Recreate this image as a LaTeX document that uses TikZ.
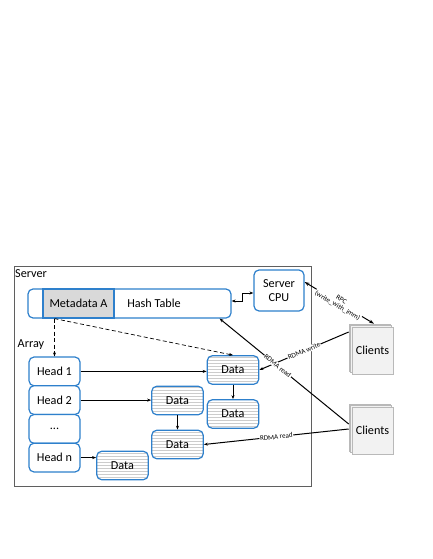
\documentclass[tikz,border=0pt]{standalone}
\usepackage{fontspec}
\setmainfont{Carlito}
\usetikzlibrary{arrows.meta,patterns,shadows}
\definecolor{bblue}{RGB}{46,128,204}
\definecolor{framegray}{RGB}{95,95,95}
\definecolor{metafill}{RGB}{217,217,217}
\definecolor{cfill}{RGB}{242,242,242}
\definecolor{cdraw}{RGB}{185,185,185}
\tikzset{
  bbox/.style={draw=bblue, line width=1.2pt, rounded corners=5pt, fill=white, inner sep=0pt, align=center},
  headbox/.style={bbox, minimum width=51pt, minimum height=28.75pt},
  databox/.style={draw=bblue, line width=1.2pt, rounded corners=5pt, inner sep=0pt,
     preaction={fill=white}, pattern=horizontal lines, pattern color=black!20,
     minimum width=51.5pt, minimum height=28.5pt},
  clientbox/.style={draw=cdraw, line width=0.6pt, fill=cfill, minimum width=41pt, minimum height=47pt, inner sep=0pt,
     double copy shadow={shadow xshift=-1.5pt, shadow yshift=1.5pt, fill=cfill, draw=cdraw, line width=0.6pt}},
  tip/.style={-{Stealth[length=4pt,width=3pt]}},
  conn/.style={line width=0.7pt},
  cconn/.style={line width=1pt},
  lab/.style={font=\fontsize{7}{7.5}\selectfont, fill=white, inner sep=0.6pt, sloped, align=center}
}
\begin{document}
\begin{tikzpicture}[x=1pt,y=-1pt,font=\fontsize{12.2}{14}\selectfont]
\useasboundingbox[fill=white] (0,0) rectangle (432,559);
% server frame
\draw[framegray, line width=0.9pt] (14,266) rectangle (311,486);
\node[anchor=west, inner sep=0pt] (srv) at (15,274) {Server};
\node[anchor=west, inner sep=0pt] (arr) at (17.5,345) {Array};
% hash table
\node[bbox, minimum width=203pt, minimum height=29pt] (HT) at (129.5,303.5) {};
\node[draw=bblue, line width=1.2pt, fill=metafill, minimum width=71pt, minimum height=29pt, inner sep=0pt] (MA) at (78.5,303.5) {Metadata A};
\node (htl) at (154,303.5) {Hash Table};
% server cpu
\node[bbox, minimum width=50pt, minimum height=41pt] (CPU) at (279,290.5) {Server\\CPU};
% heads
\node[headbox] (H1) at (54.5,371.4) {Head 1};
\node[headbox] (H2) at (54.5,400.1) {Head 2};
\node[headbox] (H3) at (54.5,428.9) {...};
\node[headbox] (Hn) at (54.5,457.6) {Head n};
% data
\node[databox] (D1) at (233,370) {Data};
\node[databox] (D1b) at (233,414) {Data};
\node[databox] (D2) at (177.5,400.5) {Data};
\node[databox] (D2b) at (177.5,444.5) {Data};
\node[databox] (Dn) at (122.5,465.5) {Data};
% clients
\node[clientbox] (C1) at (372.5,350.5) {Clients};
\node[clientbox] (C2) at (372.5,430.5) {Clients};
% arrows inside server
\draw[conn, tip] (H1.east) -- (H1.east -| D1.west);
\draw[conn, tip] (H2.east) -- (H2.east -| D2.west);
\draw[conn, tip] (Hn.east) -- (Hn.east -| Dn.west);
\draw[conn, tip] (D1.south) -- (D1b.north);
\draw[conn, tip] (D2.south) -- (D2b.north);
\coordinate (ms) at (H1.north |- MA.south);
\draw[conn, dashed, dash pattern=on 4pt off 2.5pt, tip] (ms) -- (H1.north);
\draw[conn, dashed, dash pattern=on 4pt off 2.5pt, tip] (ms) -- (D1.north);
\draw[conn, {Stealth[length=4pt,width=3pt]}-{Stealth[length=4pt,width=3pt]}] ([yshift=2.5pt]HT.east) -- ++(11,0) |- ([yshift=-2.5pt]CPU.west);
% client connectors
\draw[cconn, {Stealth[length=5pt,width=3.5pt]}-{Stealth[length=5pt,width=3.5pt]}] ([yshift=8.5pt]CPU.east) -- node[lab] {RPC\\(write\_with\_imm)} ([yshift=3pt,xshift=1.5pt]C1.north);
\draw[cconn, tip] ([xshift=-3pt,yshift=18.5pt]C1.west) -- node[lab] {RDMA write} (D1.east);
\draw[cconn, tip] ([xshift=-3pt,yshift=6.5pt]C2.west) -- node[lab, pos=0.55] {RDMA read} ([xshift=-12pt]HT.south east);
\draw[cconn, tip] ([xshift=-3pt,yshift=1.5pt]C2.west) -- node[lab, pos=0.5] {RDMA read} (D2b.east);
\end{tikzpicture}
\end{document}
